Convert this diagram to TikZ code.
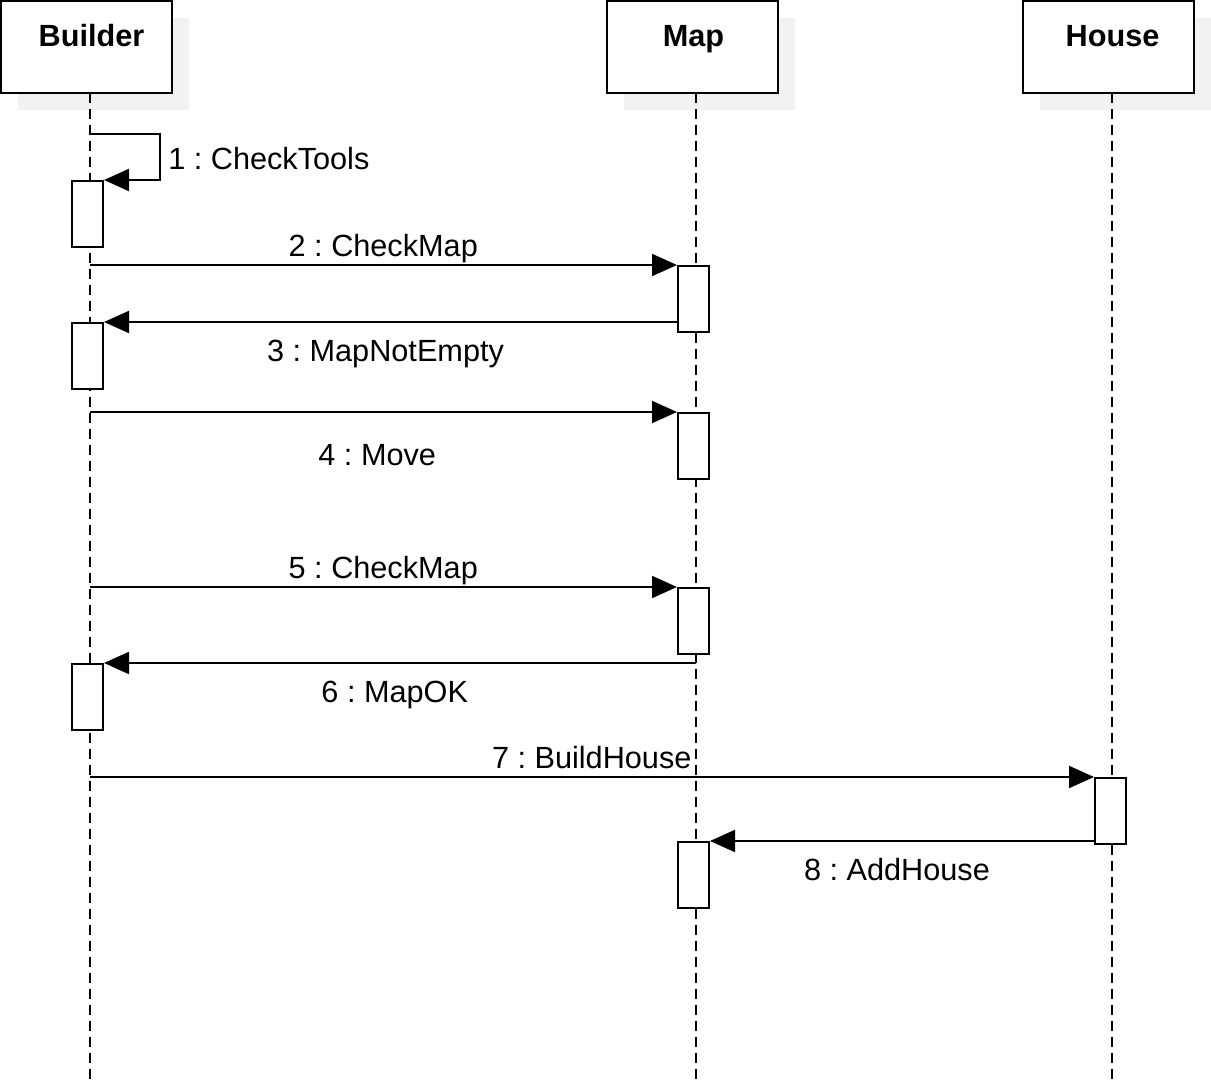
\documentclass[tikz,border=0pt]{standalone}
\usepackage{fontspec}
\setmainfont{Liberation Sans}
\frenchspacing
\usetikzlibrary{arrows.meta,shadows,positioning}
\definecolor{shadowgray}{HTML}{F2F2F2}
\tikzset{
  seq_font/.style = {font=\fontsize{23}{27}\selectfont},
  seq_head/.style = {rectangle, draw=black, line width=1.5pt, fill=white,
    minimum width=128.25pt, minimum height=69pt, inner sep=0pt,
    text height=0pt, text depth=0pt, font=\fontsize{23}{27}\selectfont\bfseries,
    drop shadow={shadow xshift=12.75pt, shadow yshift=-12.75pt,
      fill=shadowgray, opacity=1}},% tete de ligne de vie
  seq_act/.style = {rectangle, draw=black, line width=1.5pt, fill=white,
    minimum width=23.25pt, minimum height=49.5pt, inner sep=0pt},% activation
  seq_life/.style = {draw=black, line width=1.5pt, dash pattern=on 7.5pt off 4.5pt},% ligne de vie
  seq_msg/.style = {draw=black, line width=1.5pt,
    -{Triangle[length=18.75pt, width=16.5pt]}},% message
  msg_lbl/.style = {seq_font, anchor=base, inner sep=0pt},
  lbl_up/.style = {msg_lbl, yshift=6.75pt},
  lbl_dn/.style = {msg_lbl, xshift=-3.75pt, yshift=-29.25pt}
}
\begin{document}
\begin{tikzpicture}[x=0.75pt, y=-0.75pt]
        \useasboundingbox (0,0) rectangle (1211,1081);
        % tetes
        \node [seq_head] (builder) at (86.5,47) {\hspace{7.5pt}Builder};
        \node [seq_head] (map) at (692.5,47) {\hspace{1.5pt}Map};
        \node [seq_head] (house) at (1108.5,47) {\hspace{6pt}House};
        % lignes de vie
        \coordinate (b_life) at (89.5,93);
        \coordinate (m_life) at (695.5,93);
        \coordinate (h_life) at (1111.5,93);
        \coordinate (b_end) at (89.5,1081);
        \coordinate (m_end) at (695.5,1081);
        \coordinate (h_end) at (1111.5,1081);
        \draw [seq_life] (b_life) -- (b_end);
        \draw [seq_life] (m_life) -- (m_end);
        \draw [seq_life] (h_life) -- (h_end);
        % activations
        \node [seq_act] (bact1) at (87.5,214) {};
        \node [seq_act] (mact1) at (693.5,299) {};
        \node [seq_act] (bact2) at (87.5,356) {};
        \node [seq_act] (mact2) at (693.5,446) {};
        \node [seq_act] (mact3) at (693.5,621) {};
        \node [seq_act] (bact3) at (87.5,697) {};
        \node [seq_act] (hact1) at (1110.5,811) {};
        \node [seq_act] (mact4) at (693.5,875) {};
        % messages
        \coordinate (m1_s) at (89.5,134);
        \draw [seq_msg] (m1_s) -- ++(70,0) |- (bact1.north east);
        \node [msg_lbl, anchor=base west] (m1_t) at (168,170) {1 : CheckTools};
        \draw [seq_msg] (b_life |- mact1.north) -- node[lbl_up]{2 : CheckMap} (mact1.north west);
        \draw [seq_msg] (mact1.west |- bact2.north) -- node[lbl_dn]{3 : MapNotEmpty} (bact2.north east);
        \draw [seq_msg] (b_life |- mact2.north) -- node[msg_lbl, xshift=-4.5pt, yshift=-39.75pt]{4 : Move} (mact2.north west);
        \draw [seq_msg] (b_life |- mact3.north) -- node[lbl_up]{5 : CheckMap} (mact3.north west);
        \draw [seq_msg] (m_life |- bact3.north) -- node[lbl_dn]{6 : MapOK} (bact3.north east);
        \draw [seq_msg] (b_life |- hact1.north) -- node[lbl_up]{7 : BuildHouse} (hact1.north west);
        \draw [seq_msg] (hact1.west |- mact4.north) -- node[lbl_dn]{8 : AddHouse} (mact4.north east);
\end{tikzpicture}
\end{document}
